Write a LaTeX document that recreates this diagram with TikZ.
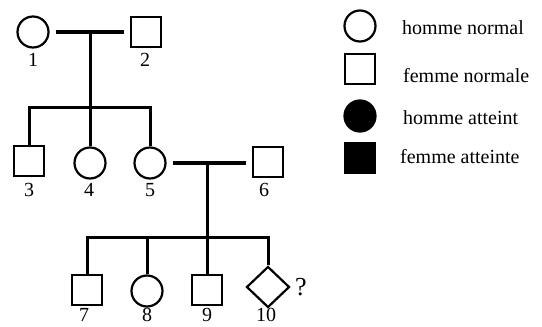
\documentclass[tikz,border=0pt]{standalone}
\usepackage{fontspec}
\setmainfont{Liberation Serif}
\usetikzlibrary{shapes.geometric}
\begin{document}
\begin{tikzpicture}[x=1pt,y=-1pt,
  shp/.style={draw,line width=2.2pt,inner sep=0pt,minimum size=31pt},
  circ/.style={shp,circle},
  sq/.style={shp,rectangle,minimum size=30pt},
  dia/.style={shp,diamond,minimum width=43pt,minimum height=41pt},
  link/.style={line width=3pt},
  wed/.style={line width=3.5pt,shorten <=6pt,shorten >=6pt},
  num/.style={font=\fontsize{20}{20}\selectfont,inner sep=0pt},
  leg/.style={font=\fontsize{20}{20}\selectfont,inner sep=0pt,anchor=west}]
\useasboundingbox (0,0) rectangle (542,327);
% generation I
\node[circ] (p1) at (33,32) {};
\node[sq] (p2) at (146,32) {};
\node[num] (l1) at (33,60) {1};
\node[num] (l2) at (145,60) {2};
\coordinate (m1) at (90,32);
\coordinate (sb1) at (90,107);
\draw[wed] (p1) -- (p2);
% generation II
\node[sq] (p3) at (29,161) {};
\node[circ] (p4) at (90,163) {};
\node[circ] (p5) at (150,163) {};
\node[sq] (p6) at (268,162) {};
\node[num] (l3) at (29,190) {3};
\node[num] (l4) at (89,190) {4};
\node[num] (l5) at (150,190) {5};
\node[num] (l6) at (264,190) {6};
\draw[link] (p3.north) |- (sb1) -| (p5.north);
\draw[link] (p4.north) -- (m1);
\coordinate (m2) at (207,163);
\coordinate (sb2) at (207,237);
\draw[wed] (p5.east) -- (p6.west |- p5.east);
% generation III
\node[sq] (p7) at (87,290) {};
\node[circ] (p8) at (147,291) {};
\node[sq] (p9) at (207,290) {};
\node[dia] (p10) at (268,287) {};
\node[font=\fontsize{26}{26}\selectfont,inner sep=0pt] (q) at (301,287) {?};
\node[num] (l7) at (84,315) {7};
\node[num] (l8) at (147,315) {8};
\node[num] (l9) at (207,315) {9};
\node[num] (l10) at (266,315) {10};
\draw[link] (p7.north) |- (sb2) -| (p10.north);
\draw[link] (p9.north) -- (m2);
\draw[link] (p8.north) -- (p8.north |- sb2);
% legend
\node[circ] (k1) at (360,26) {};
\node[sq] (k2) at (360,69) {};
\node[circ,fill=black] (k3) at (360,116) {};
\node[sq,fill=black] (k4) at (360,158) {};
\node[leg] (t1) at (402,28) {homme normal};
\node[leg] (t2) at (403,76) {femme normale};
\node[leg] (t3) at (403,118) {homme atteint};
\node[leg] (t4) at (400,157) {femme atteinte};
\end{tikzpicture}
\end{document}
